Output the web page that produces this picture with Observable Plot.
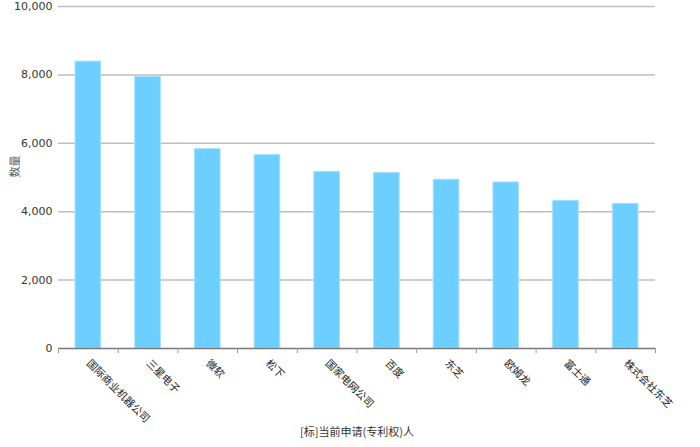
<!DOCTYPE html>
<html>
<head>
<meta charset="utf-8">
<script src="https://cdn.jsdelivr.net/npm/d3@7"></script>
<script src="https://cdn.jsdelivr.net/npm/@observablehq/plot@0.6"></script>
<style>
  html, body { margin: 0; padding: 0; background: #fff; }
  #chart svg { display: block; }
</style>
</head>
<body>
<div id="chart"></div>
<script>
const categories = ["国际商业机器公司", "三星电子", "微软", "松下", "国家电网公司", "百度", "东芝", "欧姆龙", "富士通", "株式会社东芝"];
const counts = [8390, 7945, 5830, 5655, 5165, 5135, 4935, 4855, 4320, 4230];
const yTicks = [0, 2000, 4000, 6000, 8000, 10000];
const xTitle = "[标]当前申请(专利权)人";
const yTitle = "数量";

const data = categories.map((c, i) => ({name: c, value: counts[i]}));

const W = 700, H = 447, mL = 58, mR = 45, mT = 6, mB = 99;
const bw = (W - mL - mR) / categories.length;
const fmt = d3.format(",");

const chart = Plot.plot({
  width: W,
  height: H,
  marginLeft: mL,
  marginRight: mR,
  marginTop: mT,
  marginBottom: mB,
  style: {fontFamily: "'DejaVu Sans', 'Noto Sans CJK SC', sans-serif", fontSize: "11px", color: "#333", background: "#fff"},
  x: {domain: categories, padding: 0, round: false, label: null},
  y: {domain: [0, 10000], label: null},
  marks: [
    Plot.gridY(yTicks.filter(d => d > 0), {stroke: "#bdbdbd", strokeOpacity: 1, strokeWidth: 1.5}),
    Plot.barY(data, {x: "name", y: "value", fill: "#6ccfff", stroke: "#a9e2ff", strokeWidth: 1, insetLeft: 17, insetRight: 17}),
    Plot.ruleY([0], {stroke: "#777", strokeWidth: 1.5}),
    Plot.axisY({ticks: yTicks, tickFormat: fmt, tickSize: 0, tickPadding: 6, label: null, fill: "#333", fontFamily: "'DejaVu Sans', sans-serif"}),
    Plot.axisX({tickSize: 0, tickPadding: 13, tickRotate: 45, label: null, fill: "#222", fontFamily: "'Noto Sans CJK SC', sans-serif", fontSize: 10.5}),
    Plot.axisX({tickSize: 5, text: null, label: null, dx: -bw / 2, stroke: "#999"}),
    Plot.axisX([categories[categories.length - 1]], {tickSize: 5, text: null, label: null, dx: bw / 2, stroke: "#999"}),
    Plot.text([yTitle], {frameAnchor: "left", dx: -43, rotate: -90, fill: "#555", fontFamily: "'Noto Sans CJK SC', sans-serif", fontSize: 11}),
    Plot.text([xTitle], {frameAnchor: "bottom", dy: 87, fill: "#333", fontFamily: "'Noto Sans CJK SC', sans-serif", fontSize: 11})
  ]
});
document.getElementById("chart").appendChild(chart);
</script>
</body>
</html>
